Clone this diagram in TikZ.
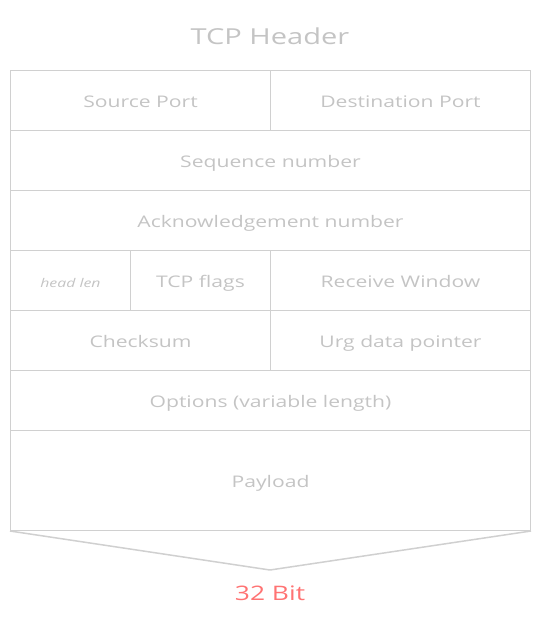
\documentclass[tikz,border=0pt]{standalone}
\usepackage{fontspec}
\setmainfont{Open Sans}[FakeStretch=1.32]
\definecolor{txtgray}{HTML}{C4C4C4}
\definecolor{linegray}{HTML}{D0D0D0}
\definecolor{bitred}{HTML}{FF7373}
\begin{document}
\begin{tikzpicture}[x=1pt,y=-1pt,
  field/.style={draw=linegray, line width=1pt, rectangle, inner sep=0pt, anchor=north west,
    text=txtgray, font=\fontsize{16}{19}\selectfont, text height=15pt, text depth=1pt},
]
\useasboundingbox (0,0) rectangle (540,618);
\node[text=txtgray, font=\fontsize{22}{26}\selectfont] (title) at (270,36) {TCP Header};
% row 1
\node[field, minimum width=260pt, minimum height=60pt] (src) at (10,70) {Source Port};
\node[field, minimum width=260pt, minimum height=60pt] (dst) at (270,70) {Destination Port};
% row 2
\node[field, minimum width=520pt, minimum height=60pt] (seq) at (10,130) {Sequence number};
% row 3
\node[field, minimum width=520pt, minimum height=60pt] (ack) at (10,190) {Acknowledgement number};
% row 4
\node[field, minimum width=120pt, minimum height=60pt, font=\fontsize{12}{14}\selectfont\itshape] (hlen) at (10,250) {head len};
\node[field, minimum width=140pt, minimum height=60pt] (flags) at (130,250) {TCP flags};
\node[field, minimum width=260pt, minimum height=60pt] (win) at (270,250) {Receive Window};
% row 5
\node[field, minimum width=260pt, minimum height=60pt] (chk) at (10,310) {Checksum};
\node[field, minimum width=260pt, minimum height=60pt] (urg) at (270,310) {Urg data pointer};
% row 6
\node[field, minimum width=520pt, minimum height=60pt] (opt) at (10,370) {Options (variable length)};
% row 7
\node[field, minimum width=520pt, minimum height=100pt] (pay) at (10,430) {Payload};
% triangle below the payload
\coordinate (tip) at (270,570);
\draw[linegray, line width=1.5pt, line join=round] (pay.south west) -- (tip) -- (pay.south east);
\node[text=bitred, font=\fontsize{20}{23}\selectfont] (bits) at (270,593) {32 Bit};
\end{tikzpicture}
\end{document}
